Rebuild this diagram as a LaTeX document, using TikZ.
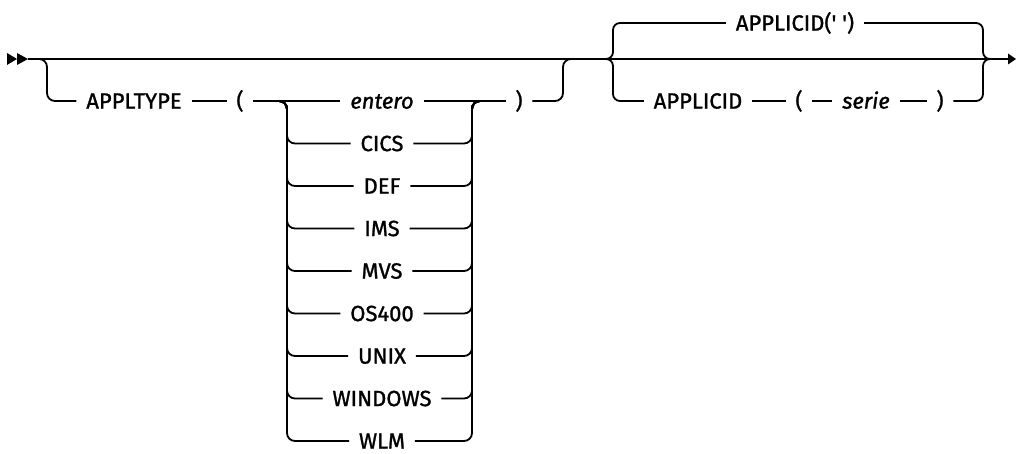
\documentclass[tikz,border=0pt]{standalone}
\usepackage{fontspec}
\newfontfamily\df{Fira Sans}[FakeBold=1.2]
\begin{document}
\begin{tikzpicture}[x=1pt,y=-1pt, line width=1.8pt,
  lbl/.style={font=\df\fontsize{22}{23}\selectfont, inner xsep=9pt, inner ysep=0pt, text height=15.2pt, text depth=0pt},
  it/.style={lbl, font=\df\itshape\fontsize{22}{23}\selectfont},
  rc/.style={rounded corners=8pt}]
\useasboundingbox (0,0) rectangle (1016,454);
% main line junctions
\coordinate (start) at (28,59);
\coordinate (s1) at (37,59);
\coordinate (j1) at (573,59);
\coordinate (s2) at (605,59);
\coordinate (j2) at (991,59);
\coordinate (end) at (1008,59);
% arrows
\fill (start) -- ++(-11,-6) -- ++(0,12) -- cycle;
\fill (17,59) -- ++(-10,-6) -- ++(0,12) -- cycle;
\fill (end) -- ++(0,-5.5) -- ++(8,5.5) -- ++(-8,5.5) -- cycle;
\draw (start) -- (s1) -- (j1) -- (s2) -- (j2) -- (end);
% group 1
\node[lbl] (appltype) at (134,101) {APPLTYPE};
\node[lbl] (lp1) at (240,101) {(};
\node[lbl] (rp1) at (519,101) {)};
\draw[rc] (s1) -| (47,101) -- (appltype.west);
\draw (appltype.east) -- (lp1.west);
\draw[rc] (rp1.east) -| (563,59) -- (j1);
% choice
\coordinate (cl) at (277,101);
\coordinate (clt) at (287,101);
\coordinate (crt) at (472,101);
\coordinate (cr) at (482,101);
\node[it] (c0) at (382,101) {entero};
\draw (lp1.east) -- (c0.west);
\draw (c0.east) -- (rp1.west);
\foreach \t [count=\k] in {CICS,DEF,IMS,MVS,OS400,UNIX,WINDOWS,WLM} {
  \node[lbl] (c\k) at (382,{101+42.5*\k}) {\t};
  \draw[rc] (cl) -- (clt) |- (c\k.west);
  \draw[rc] (c\k.east) -| (crt) -- (cr);
}
% group 2
\coordinate (l2) at (613,59);
\coordinate (r2) at (983,59);
\node[lbl] (def) at (795,23) {APPLICID(' ')};
\node[lbl] (aid) at (698,101) {APPLICID};
\node[lbl] (lp2) at (799,101) {(};
\node[it] (serie) at (866,101) {serie};
\node[lbl] (rp2) at (940,101) {)};
\draw[rounded corners=7pt] (s2) -- (l2) |- (def.west);
\draw[rounded corners=7pt] (s2) -- (l2) |- (aid.west);
\draw[rounded corners=7pt] (def.east) -| (r2) -- (j2);
\draw[rounded corners=7pt] (rp2.east) -| (r2) -- (j2);
\draw (aid.east) -- (lp2.west);
\draw (lp2.east) -- (serie.west);
\draw (serie.east) -- (rp2.west);
\end{tikzpicture}
\end{document}
